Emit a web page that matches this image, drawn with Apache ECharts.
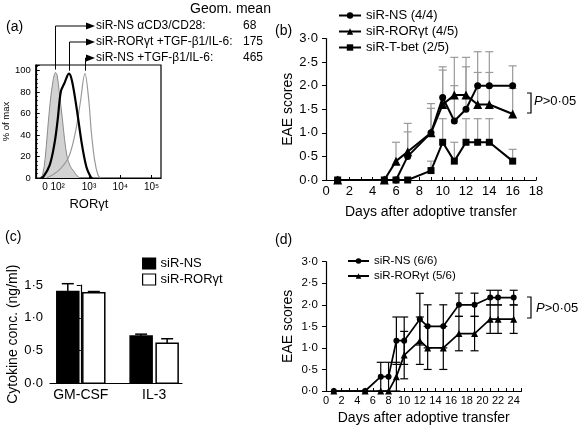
<!DOCTYPE html>
<html><head><meta charset="utf-8">
<script src="https://cdn.jsdelivr.net/npm/echarts@6/dist/echarts.min.js"></script>
<style>html,body{margin:0;padding:0;background:#fff}#c{width:578px;height:428px}</style>
</head><body><div id="c"></div>
<script>
// ---------- DATA ----------
// (a) histograms, x in decade units of the display scale (2 = 10^2 ...)
const histTickVals = [1.6, 2, 3, 4, 5];
const histTickLabels = ['0', '10²', '10³', '10⁴', '10⁵'];
const histXGrey = [1.45,1.52,1.60,1.68,1.76,1.85,1.93,1.98,2.05,2.15,2.22,2.30,2.40,2.52,2.62,2.72];
const histYGrey = [0,3,18,45,70,90,98,96,80,55,36,20,11,6,2,0];
const histXRor  = [1.45,1.54,1.745,1.898,2.0,2.10,2.215,2.36,2.46,2.615,2.77,2.92,3.055,3.11];
const histYRor  = [0,1,12,32,54,80,88,97,90,63,32,10,1,0];
const histXNs   = [1.64,1.846,2.10,2.36,2.563,2.717,2.871,2.994,3.077,3.178,3.283,3.363];
const histYNs   = [0,3,9,20,42,69,97,72,42,17,3,0];
const geoNames  = ['siR-NS αCD3/CD28:', 'siR-RORγt +TGF-β1/IL-6:', 'siR-NS +TGF-β1/IL-6:'];
const geoMeans  = ['68', '175', '465'];

// (b) EAE scores
const daysB   = [1,5,6,7,9,10,11,12,13,14,16];
const nsB     = [0,0,0,0.5,1.0,1.75,1.25,1.5,2.0,2.0,2.0];
const nsBErr  = [0,0,0,0.52,0.52,0.65,0.75,0.9,0.72,0.72,0.42];
const rorB    = [0,0,0.4,0.6,1.0,1.6,1.8,1.8,1.6,1.6,1.4];
const rorBErr = [0,0,0.4,0.6,0.62,0.73,0.8,0.8,0.68,0.68,0.54];
const tbetB   = [0,0,0,0,0.2,0.8,0.4,0.8,0.8,0.8,0.4];
const tbetBErr= [0,0,0,0,0.2,0.5,0.4,0.5,0.5,0.5,0.25];

// (c) cytokines
const cytoCats   = ['GM-CSF', 'IL-3'];
const cytoNS     = [1.40, 0.72];
const cytoNSErr  = [0.12, 0.03];
const cytoROR    = [1.38, 0.61];
const cytoRORErr = [0.02, 0.07];

// (d) EAE scores
const daysD   = [1,5,7,8,9,10,12,13,15,17,19,21,22,24];
const nsD     = [0,0,0.333,0.333,1.167,1.167,1.667,1.5,1.5,2.0,2.0,2.167,2.167,2.167];
const nsDErr  = [0,0,0.333,0.333,0.55,0.55,0.6,0.5,0.5,0.27,0.27,0.17,0.17,0.17];
const rorD    = [0,0,0,0,0.333,0.833,1.167,1.0,1.0,1.333,1.333,1.667,1.667,1.667];
const rorDErr = [0,0,0,0,0.333,0.55,0.55,0.5,0.5,0.4,0.4,0.33,0.33,0.33];

// ---------- HELPERS ----------
const FF = '"Liberation Sans", Arial, Helvetica, sans-serif';
const zip = (a, b) => a.map((v, i) => [v, b[i]]);
const zip3 = (a, b, c) => a.map((v, i) => [v, b[i], c[i]]);
const dot = v => v.toFixed(1).replace('.', '·');
const evenOnly = v => (Math.round(v) % 2 === 0 ? String(Math.round(v)) : '');

function errRender(upperOnly, color, capW, lw) {
  return function (params, api) {
    const x = api.value(0), y = api.value(1), e = api.value(2);
    if (!e) return null;
    const lo = upperOnly ? y : Math.max(0, y - e);
    const p1 = api.coord([x, y + e]);
    const p0 = api.coord([x, lo]);
    const st = { stroke: color, lineWidth: lw };
    const ch = [
      { type: 'line', shape: { x1: p0[0], y1: p0[1], x2: p1[0], y2: p1[1] }, style: st },
      { type: 'line', shape: { x1: p1[0] - capW, y1: p1[1], x2: p1[0] + capW, y2: p1[1] }, style: st }
    ];
    if (!upperOnly) ch.push({ type: 'line', shape: { x1: p0[0] - capW, y1: p0[1], x2: p0[0] + capW, y2: p0[1] }, style: st });
    return { type: 'group', children: ch };
  };
}
function barRender(side, fill) {
  return function (params, api) {
    const x = api.value(0), y = api.value(1), e = api.value(2);
    const base = api.coord([x, 0]), top = api.coord([x, y]), et = api.coord([x, y + e]);
    const w = 22, gap = 2;
    const left = side < 0 ? base[0] - gap - w : base[0] + gap;
    const cx = left + w / 2;
    const st = { stroke: '#000', lineWidth: 1.5 };
    return { type: 'group', children: [
      { type: 'line', shape: { x1: cx, y1: top[1], x2: cx, y2: et[1] }, style: st },
      { type: 'line', shape: { x1: cx - 6, y1: et[1], x2: cx + 6, y2: et[1] }, style: st },
      { type: 'rect', shape: { x: left, y: top[1], width: w, height: base[1] - top[1] }, style: { fill: fill, stroke: '#000', lineWidth: 1.5 } }
    ]};
  };
}

const axisLineBlack = { show: true, lineStyle: { color: '#000', width: 1.2 } };
const txt = (size) => ({ color: '#000', fontFamily: FF, fontSize: size });

const chart = echarts.init(document.getElementById('c'), null, { renderer: 'canvas' });

const option = {
  animation: false,
  backgroundColor: '#fff',
  textStyle: { fontFamily: FF, color: '#000' },
  grid: [
    { left: 32, top: 65, width: 129, height: 113, show: true, borderColor: '#000', borderWidth: 1.2, backgroundColor: 'transparent' },
    { left: 326, top: 38.5, width: 210, height: 141.5 },
    { left: 50, top: 285, width: 132, height: 98.3 },
    { left: 326, top: 261.7, width: 195.5, height: 129.3 }
  ],
  xAxis: [
    { gridIndex: 0, type: 'value', min: 1.3, max: 5.3, splitLine: { show: false }, axisLine: axisLineBlack,
      axisTick: { inside: true, length: 3, customValues: histTickVals, lineStyle: { color: '#000' } },
      axisLabel: Object.assign(txt(10), { margin: 4, customValues: histTickVals,
        formatter: v => histTickLabels[histTickVals.indexOf(v)] }),
      name: 'RORγt', nameLocation: 'middle', nameGap: 20, nameTextStyle: Object.assign(txt(13), { padding: [0, 19, 0, 0] }) },
    { gridIndex: 1, type: 'value', min: 0, max: 18, interval: 1, splitLine: { show: false }, axisLine: axisLineBlack,
      axisTick: { inside: true, length: 3, lineStyle: { color: '#000' } },
      axisLabel: Object.assign(txt(13), { margin: 5, formatter: evenOnly }),
      name: 'Days after adoptive transfer', nameLocation: 'middle', nameGap: 25, nameTextStyle: txt(14) },
    { gridIndex: 2, type: 'value', min: -0.42, max: 1.38, splitLine: { show: false }, axisLine: axisLineBlack,
      axisTick: { show: false },
      axisLabel: Object.assign(txt(14), { margin: 5, customValues: [0, 1], formatter: v => cytoCats[Math.round(v)] }) },
    { gridIndex: 3, type: 'value', min: 0, max: 25, interval: 1, splitLine: { show: false }, axisLine: axisLineBlack,
      axisTick: { inside: true, length: 3, lineStyle: { color: '#000' } },
      axisLabel: Object.assign(txt(11), { margin: 4, formatter: evenOnly }),
      name: 'Days after adoptive transfer', nameLocation: 'middle', nameGap: 20, nameTextStyle: txt(14) }
  ],
  yAxis: [
    { gridIndex: 0, type: 'value', min: 0, max: 105, interval: 20, splitLine: { show: false }, axisLine: axisLineBlack,
      axisTick: { inside: true, length: 4, lineStyle: { color: '#000' } },
      minorTick: { show: true, splitNumber: 5, length: 2, lineStyle: { color: '#000' } },
      axisLabel: Object.assign(txt(9.5), { margin: 5, formatter: v => (v > 100 ? '' : String(v)) }),
      name: '% of max', nameLocation: 'middle', nameGap: 19, nameTextStyle: txt(9.5) },
    { gridIndex: 1, type: 'value', min: 0, max: 3, interval: 0.5, splitLine: { show: false }, axisLine: axisLineBlack,
      axisTick: { length: 4, lineStyle: { color: '#000' } },
      axisLabel: Object.assign(txt(13), { margin: 8, formatter: dot }),
      name: 'EAE scores', nameLocation: 'middle', nameGap: 30, nameTextStyle: txt(14) },
    { gridIndex: 2, type: 'value', min: 0, max: 1.5, interval: 0.5, splitLine: { show: false }, axisLine: axisLineBlack,
      axisTick: { length: 4, lineStyle: { color: '#000' } },
      axisLabel: Object.assign(txt(13), { margin: 7, formatter: dot }),
      name: 'Cytokine conc. (ng/ml)', nameLocation: 'middle', nameGap: 28, nameTextStyle: txt(14) },
    { gridIndex: 3, type: 'value', min: 0, max: 3, interval: 0.5, splitLine: { show: false }, axisLine: axisLineBlack,
      axisTick: { length: 4, lineStyle: { color: '#000' } },
      axisLabel: Object.assign(txt(11.5), { margin: 8, formatter: dot }),
      name: 'EAE scores', nameLocation: 'middle', nameGap: 31, nameTextStyle: txt(14) }
  ],
  legend: [
    { data: ['siR-NS (4/4)', 'siR-RORγt (4/5)', 'siR-T-bet (2/5)'], orient: 'vertical', left: 338, top: 9,
      itemWidth: 22, itemHeight: 8, itemGap: 3, selectedMode: false, padding: 0, textStyle: txt(13) },
    { data: [ { name: 'siR-NS', icon: 'rect', itemStyle: { color: '#000', borderColor: '#000', borderWidth: 1.2 } },
              { name: 'siR-RORγt', icon: 'rect', itemStyle: { color: '#fff', borderColor: '#000', borderWidth: 1.2 } } ],
      orient: 'vertical', left: 142, top: 257, itemWidth: 13, itemHeight: 11, itemGap: 3, selectedMode: false, padding: 0, textStyle: txt(13) },
    { data: ['siR-NS (6/6)', 'siR-RORγt (5/6)'], orient: 'vertical', left: 347, top: 255,
      itemWidth: 21, itemHeight: 7, itemGap: 3, selectedMode: false, padding: 0, textStyle: txt(11.5) }
  ],
  series: [
    // (a)
    { name: 'hGrey', type: 'line', xAxisIndex: 0, yAxisIndex: 0, data: zip(histXGrey, histYGrey), smooth: 0.35, showSymbol: false,
      lineStyle: { color: '#8a8a8a', width: 1 }, areaStyle: { color: '#d2d2d2', opacity: 1 }, z: 2, silent: true },
    { name: 'hNs', type: 'line', xAxisIndex: 0, yAxisIndex: 0, data: zip(histXNs, histYNs), smooth: 0.35, showSymbol: false,
      lineStyle: { color: '#9a9a9a', width: 1.2 }, z: 3, silent: true },
    { name: 'hRor', type: 'line', xAxisIndex: 0, yAxisIndex: 0, data: zip(histXRor, histYRor), smooth: 0.35, showSymbol: false,
      lineStyle: { color: '#000', width: 2.2 }, z: 4, silent: true },
    // (b) error bars
    { type: 'custom', xAxisIndex: 1, yAxisIndex: 1, data: zip3(daysB, nsB, nsBErr), renderItem: errRender(true, '#9a9a9a', 4, 1.2), z: 1, silent: true },
    { type: 'custom', xAxisIndex: 1, yAxisIndex: 1, data: zip3(daysB, rorB, rorBErr), renderItem: errRender(true, '#9a9a9a', 4, 1.2), z: 1, silent: true },
    { type: 'custom', xAxisIndex: 1, yAxisIndex: 1, data: zip3(daysB, tbetB, tbetBErr), renderItem: errRender(true, '#9a9a9a', 4, 1.2), z: 1, silent: true },
    // (b) lines
    { name: 'siR-NS (4/4)', type: 'line', xAxisIndex: 1, yAxisIndex: 1, data: zip(daysB, nsB), symbol: 'circle', symbolSize: 7,
      itemStyle: { color: '#000' }, lineStyle: { color: '#000', width: 2 }, z: 5, silent: true },
    { name: 'siR-RORγt (4/5)', type: 'line', xAxisIndex: 1, yAxisIndex: 1, data: zip(daysB, rorB), symbol: 'triangle', symbolSize: 9,
      itemStyle: { color: '#000' }, lineStyle: { color: '#000', width: 2 }, z: 5, silent: true },
    { name: 'siR-T-bet (2/5)', type: 'line', xAxisIndex: 1, yAxisIndex: 1, data: zip(daysB, tbetB), symbol: 'rect', symbolSize: 7,
      itemStyle: { color: '#000' }, lineStyle: { color: '#000', width: 2 }, z: 5, silent: true },
    // (c)
    { name: 'siR-NS', type: 'custom', xAxisIndex: 2, yAxisIndex: 2, data: zip3([0, 1], cytoNS, cytoNSErr), renderItem: barRender(-1, '#000'), itemStyle: { color: '#000' }, silent: true },
    { name: 'siR-RORγt', type: 'custom', xAxisIndex: 2, yAxisIndex: 2, data: zip3([0, 1], cytoROR, cytoRORErr), renderItem: barRender(1, '#fff'), itemStyle: { color: '#fff' }, silent: true },
    // (d) error bars
    { type: 'custom', xAxisIndex: 3, yAxisIndex: 3, data: zip3(daysD, nsD, nsDErr), renderItem: errRender(false, '#000', 4, 1.2), z: 1, silent: true },
    { type: 'custom', xAxisIndex: 3, yAxisIndex: 3, data: zip3(daysD, rorD, rorDErr), renderItem: errRender(false, '#000', 4, 1.2), z: 1, silent: true },
    // (d) lines
    { name: 'siR-NS (6/6)', type: 'line', xAxisIndex: 3, yAxisIndex: 3, data: zip(daysD, nsD), symbol: 'circle', symbolSize: 6,
      itemStyle: { color: '#000' }, lineStyle: { color: '#000', width: 1.7 }, z: 5, silent: true },
    { name: 'siR-RORγt (5/6)', type: 'line', xAxisIndex: 3, yAxisIndex: 3, data: zip(daysD, rorD), symbol: 'triangle', symbolSize: 7,
      itemStyle: { color: '#000' }, lineStyle: { color: '#000', width: 1.7 }, z: 5, silent: true }
  ]
};
chart.setOption(option);

// ---------- annotations ----------
function peak(xs, ys) { let k = 0; ys.forEach((v, i) => { if (v > ys[k]) k = i; }); return chart.convertToPixel({ xAxisIndex: 0, yAxisIndex: 0 }, [xs[k], ys[k]]); }
const peaks = [peak(histXGrey, histYGrey), peak(histXRor, histYRor), peak(histXNs, histYNs)];
const rowY = [26, 42, 58];
const g = [];
const T = (x, y, text, size, extra) => ({ type: 'text', x: x, y: y, style: Object.assign({ text: text, fill: '#000', font: size + 'px ' + FF, verticalAlign: 'middle', align: 'left' }, extra || {}) });
g.push(T(190, 9, 'Geom. mean', 14));
geoNames.forEach((n, i) => {
  g.push(T(96, rowY[i], n, 12));
  g.push(T(243, rowY[i], geoMeans[i], 12));
  const px = Math.round(peaks[i][0]) + 0.5;
  g.push({ type: 'polyline', shape: { points: [[px, peaks[i][1] - 3], [px, rowY[i]], [88, rowY[i]]] }, style: { stroke: '#000', lineWidth: 1, fill: null } });
  g.push({ type: 'polygon', shape: { points: [[86, rowY[i] - 3.5], [95, rowY[i]], [86, rowY[i] + 3.5]] }, style: { fill: '#000' } });
});
g.push(T(6, 27, '(a)', 14));
g.push(T(275, 31, '(b)', 14));
g.push(T(5, 237, '(c)', 14));
g.push(T(275, 240, '(d)', 14));
const bracket = (x, y1, y2) => ({ type: 'polyline', shape: { points: [[x, y1], [x + 4, y1], [x + 4, y2], [x, y2]] }, style: { stroke: '#000', lineWidth: 1.2, fill: null } });
g.push(bracket(527, 93, 113));
g.push(bracket(527, 297, 318));
const pText = (x, y) => ({ type: 'text', x: x, y: y, style: { text: '{i|P}>0·05', rich: { i: { fontStyle: 'italic', fontSize: 13, fontFamily: FF, fill: '#000' } }, fill: '#000', fontSize: 13, fontFamily: FF, verticalAlign: 'middle' } });
g.push(pText(534, 101));
g.push(pText(536, 308));
chart.setOption({ graphic: g });
</script></body></html>
